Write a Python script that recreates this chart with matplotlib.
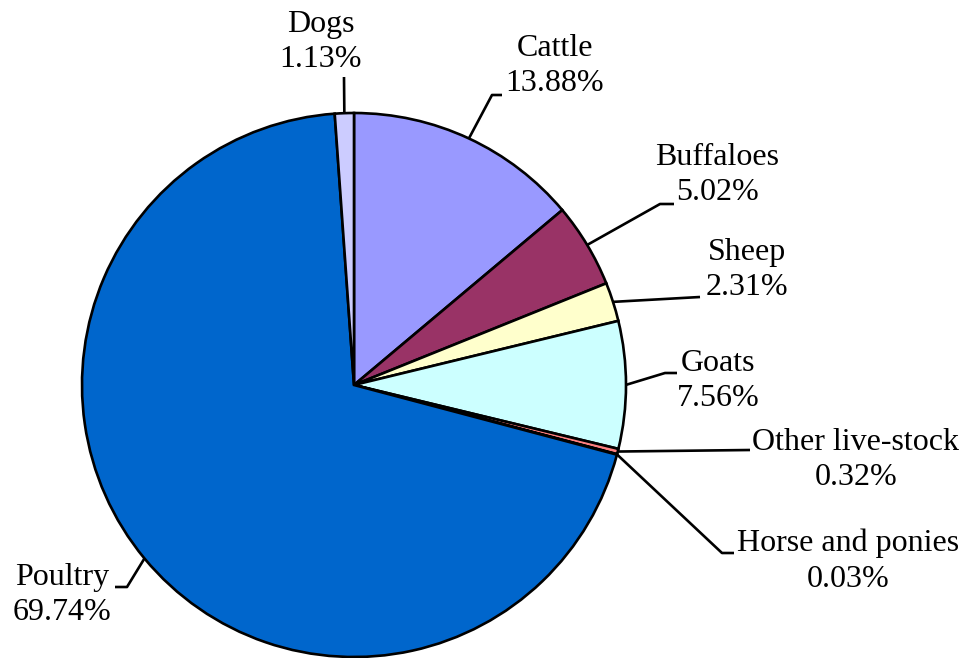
import numpy as np
import matplotlib
matplotlib.use("Agg")
import matplotlib.pyplot as plt

# livestock share data
animals = ["Cattle", "Buffaloes", "Sheep", "Goats", "Other live-stock",
           "Horse and ponies", "Poultry", "Dogs"]
shares = [13.88, 5.02, 2.31, 7.56, 0.32, 0.03, 69.74, 1.13]
colors = ["#9999FF", "#993366", "#FFFFCC", "#CCFFFF", "#FF8080",
          "#660066", "#0066CC", "#CCCCFF"]

W, H = 968, 658
plt.rcParams["font.family"] = ["Liberation Serif", "DejaVu Serif"]

fig = plt.figure(figsize=(W / 100, H / 100), dpi=100)
ax = fig.add_axes([0, 0, 1, 1])

cx, cy, R = 354, 385, 272
# y axis is inverted below, so counterclock=True ends up clockwise on screen
wedges, _ = ax.pie(shares, colors=colors, startangle=-90, counterclock=True,
                   center=(cx, cy), radius=R, frame=True,
                   wedgeprops=dict(edgecolor="black", linewidth=1.9))
ax.set_xlim(0, W)
ax.set_ylim(H, 0)  # pixel-style coordinates, y down
ax.axis("off")
ax.set_aspect("equal")

# label layout: text centre, then leader bend points (pixels)
layout = {
    "Cattle": ((555, 66), [(492, 95), (502, 95)]),
    "Buffaloes": ((717, 175), [(660, 204), (674, 204)]),
    "Sheep": ((747, 270), [(700, 297)]),
    "Goats": ((718, 381), [(665, 373), (677, 373)]),
    "Other live-stock": ((856, 460), [(750, 450)]),
    "Horse and ponies": ((848, 561), [(722, 553), (734, 553)]),
    "Poultry": ((62, 595), [(127, 587), (115, 587)]),
    "Dogs": ((321, 42), [(344, 77)]),
}

for w, name, val in zip(wedges, animals, shares):
    mid = np.deg2rad((w.theta1 + w.theta2) / 2)
    x0 = cx + R * np.cos(mid)
    y0 = cy + R * np.sin(mid)
    (tx, ty), pts = layout[name]
    xs = [x0] + [p[0] for p in pts]
    ys = [y0] + [p[1] for p in pts]
    ax.plot(xs, ys, color="black", linewidth=1.9, solid_capstyle="butt")
    ax.text(tx, ty, f"{name}\n{val:.2f}%", ha="center", va="center",
            fontsize=23, linespacing=1.3, color="black")

fig.savefig("out.png", dpi=100)
